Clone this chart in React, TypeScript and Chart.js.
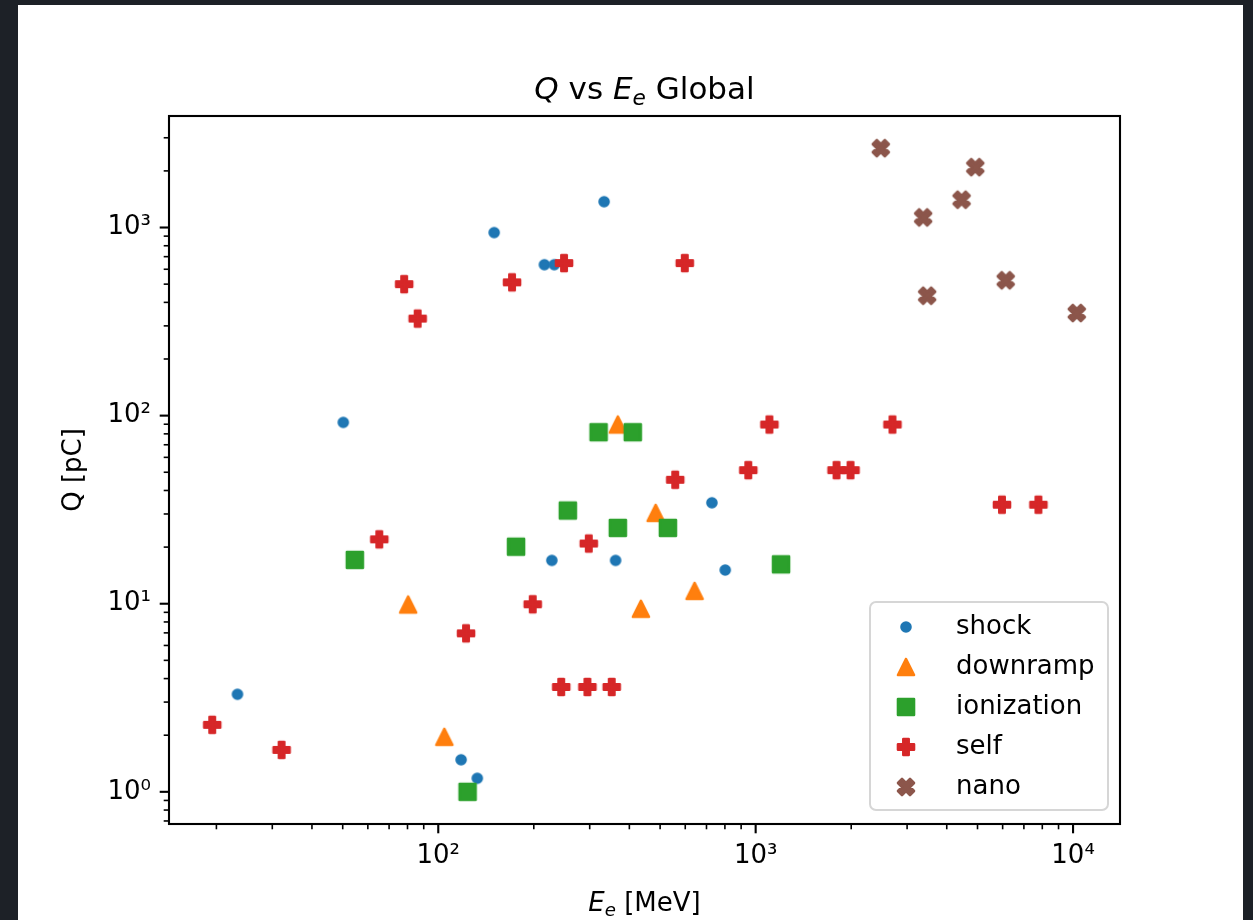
import React, { useEffect, useRef } from 'react';
import { Chart, registerables } from 'chart.js';

Chart.register(...registerables);

// ---------------- data ----------------
const shockE = [23.3, 50.2, 118, 132.7, 150, 216, 232, 333, 228, 362, 728, 802];
const shockQ = [3.3, 92, 1.48, 1.18, 940, 634, 634, 1371, 17.0, 17.0, 34.4, 15.1];

const downrampE = [80.4, 104.5, 368, 484, 642, 435];
const downrampQ = [9.9, 1.96, 89.7, 30.4, 11.7, 9.4];

const ionizationE = [54.6, 123.7, 175.8, 256, 320, 410, 368, 529, 1202];
const ionizationQ = [17.1, 1.0, 20.1, 31.3, 81.6, 81.6, 25.3, 25.3, 16.2];

const selfE = [19.4, 32.1, 65.2, 78.1, 86.1, 122.3, 198.4, 170.8, 249, 598, 298, 558, 948, 1105, 244, 295, 352, 1798, 1990, 2698, 5970, 7778];
const selfQ = [2.27, 1.67, 22.0, 500, 328, 6.96, 9.93, 511, 647, 647, 20.9, 45.6, 51.3, 89.7, 3.61, 3.61, 3.61, 51.3, 51.3, 89.7, 33.6, 33.6];

const nanoE = [2479, 3371, 3470, 4454, 4920, 6134, 10273];
const nanoQ = [2641, 1132, 434, 1405, 2094, 524, 351];

const seriesNames = ['shock', 'downramp', 'ionization', 'self', 'nano'];
const seriesColors = ['#1f77b4', '#ff7f0e', '#2ca02c', '#d62728', '#8c564b'];
const seriesMarkers = ['point', 'triangle', 'square', 'plus', 'x'];

const xAxisMin = 14.18;
const xAxisMax = 14057;
const yAxisMin = 0.6745;
const yAxisMax = 3916;

const titleParts = [
  { t: 'Q', italic: true },
  { t: ' vs ' },
  { t: 'E', italic: true },
  { t: 'e', italic: true, sub: true },
  { t: ' Global' },
];
const xLabelParts = [
  { t: 'E', italic: true },
  { t: 'e', italic: true, sub: true },
  { t: ' [MeV]' },
];
const yLabelText = 'Q [pC]';

// ---------------------------------------------------------------------------
const FONT = "'DejaVu Sans', sans-serif";
const SUP: Record<string, string> = { '-': '⁻', '0': '⁰', '1': '¹', '2': '²', '3': '³', '4': '⁴', '5': '⁵', '6': '⁶', '7': '⁷', '8': '⁸', '9': '⁹' };

function powLabel(v: number): string {
  const l = Math.log10(v);
  const r = Math.round(l);
  if (Math.abs(l - r) > 1e-6) return '';
  return '10' + String(r).split('').map((c) => SUP[c]).join('');
}

function makeMarker(kind: string, color: string): HTMLCanvasElement {
  const c = document.createElement('canvas');
  const S = 26;
  c.width = S;
  c.height = S;
  const ctx = c.getContext('2d')!;
  ctx.translate(S / 2, S / 2);
  ctx.fillStyle = color;
  ctx.strokeStyle = color;
  ctx.lineWidth = 2.6;
  ctx.lineJoin = 'round';
  const m = 16;
  ctx.beginPath();
  const poly = (pts: number[][], k: number) => {
    pts.forEach(([x, y], i) => (i ? ctx.lineTo(x * k, y * k) : ctx.moveTo(x * k, y * k)));
    ctx.closePath();
  };
  if (kind === 'point') {
    ctx.arc(0, 0, 4.5, 0, Math.PI * 2);
  } else if (kind === 'triangle') {
    poly([[0, -1], [-1, 1], [1, 1]], m / 2);
  } else if (kind === 'square') {
    ctx.rect(-m / 2, -m / 2, m, m);
  } else if (kind === 'plus') {
    poly([[-1, -3], [1, -3], [1, -1], [3, -1], [3, 1], [1, 1], [1, 3], [-1, 3], [-1, 1], [-3, 1], [-3, -1], [-1, -1]], m / 6);
  } else {
    poly([[-1, -2], [0, -1], [1, -2], [2, -1], [1, 0], [2, 1], [1, 2], [0, 1], [-1, 2], [-2, 1], [-1, 0], [-2, -1]], m / 4);
  }
  ctx.fill();
  ctx.stroke();
  return c;
}

function fontFor(p: any, size: number) {
  const s = p.sub ? size * 0.7 : size;
  return `${p.italic ? 'italic ' : ''}${s}px ${FONT}`;
}

function drawRich(ctx: CanvasRenderingContext2D, parts: any[], size: number, cx: number, baseline: number) {
  let total = 0;
  const ws = parts.map((p) => {
    ctx.font = fontFor(p, size);
    const w = ctx.measureText(p.t).width;
    total += w;
    return w;
  });
  let x = cx - total / 2;
  ctx.textAlign = 'left';
  ctx.textBaseline = 'alphabetic';
  parts.forEach((p, i) => {
    ctx.font = fontFor(p, size);
    ctx.fillText(p.t, x, baseline + (p.sub ? size * 0.18 : 0));
    x += ws[i];
  });
}

function logTicks(min: number, max: number) {
  const major: number[] = [];
  const minor: number[] = [];
  for (let e = Math.floor(Math.log10(min)); e <= Math.ceil(Math.log10(max)); e++) {
    for (let k = 1; k < 10; k++) {
      const v = k * Math.pow(10, e);
      if (v < min || v > max) continue;
      (k === 1 ? major : minor).push(v);
    }
  }
  return { major, minor };
}

export default function App() {
  const ref = useRef<HTMLCanvasElement>(null);

  useEffect(() => {
    const markers = seriesMarkers.map((k, i) => makeMarker(k, seriesColors[i]));
    const xs = [shockE, downrampE, ionizationE, selfE, nanoE];
    const ys = [shockQ, downrampQ, ionizationQ, selfQ, nanoQ];

    const datasets = seriesNames.map((name, i) => ({
      label: name,
      data: xs[i].map((x, j) => ({ x, y: ys[i][j] })),
      pointStyle: markers[i] as any,
      pointRadius: 6,
      backgroundColor: seriesColors[i],
      borderColor: seriesColors[i],
      order: seriesNames.length - i,
    }));

    const figurePlugin = {
      id: 'figure',
      beforeDraw(chart: any) {
        const ctx = chart.ctx as CanvasRenderingContext2D;
        ctx.save();
        ctx.fillStyle = '#ffffff';
        ctx.fillRect(18, 5, 1225, 915);
        ctx.restore();
      },
      afterDraw(chart: any) {
        const ctx = chart.ctx as CanvasRenderingContext2D;
        const a = chart.chartArea;
        const sx = chart.scales.x;
        const sy = chart.scales.y;
        ctx.save();
        ctx.strokeStyle = '#000';
        // ticks
        const xt = logTicks(xAxisMin, xAxisMax);
        const yt = logTicks(yAxisMin, yAxisMax);
        const tick = (vals: number[], len: number, lw: number, horiz: boolean) => {
          ctx.lineWidth = lw;
          vals.forEach((v) => {
            ctx.beginPath();
            if (horiz) {
              const p = sx.getPixelForValue(v);
              ctx.moveTo(p, a.bottom);
              ctx.lineTo(p, a.bottom + len);
            } else {
              const p = sy.getPixelForValue(v);
              ctx.moveTo(a.left, p);
              ctx.lineTo(a.left - len, p);
            }
            ctx.stroke();
          });
        };
        tick(xt.major, 9.3, 2.1, true);
        tick(xt.minor, 5.3, 1.6, true);
        tick(yt.major, 9.3, 2.1, false);
        tick(yt.minor, 5.3, 1.6, false);
        // spines
        ctx.lineWidth = 2.1;
        ctx.strokeRect(a.left, a.top, a.right - a.left, a.bottom - a.top);

        // title and axis labels
        ctx.fillStyle = '#000';
        drawRich(ctx, titleParts, 31, (a.left + a.right) / 2, 99);
        drawRich(ctx, xLabelParts, 26, (a.left + a.right) / 2, 911);
        ctx.save();
        ctx.translate(81, (a.top + a.bottom) / 2);
        ctx.rotate(-Math.PI / 2);
        ctx.font = `26px ${FONT}`;
        ctx.textAlign = 'center';
        ctx.textBaseline = 'alphabetic';
        ctx.fillText(yLabelText, 0, 0);
        ctx.restore();

        // legend
        const lx = 870, ly = 602, lw = 238, lh = 208, r = 6;
        ctx.beginPath();
        ctx.moveTo(lx + r, ly);
        ctx.arcTo(lx + lw, ly, lx + lw, ly + lh, r);
        ctx.arcTo(lx + lw, ly + lh, lx, ly + lh, r);
        ctx.arcTo(lx, ly + lh, lx, ly, r);
        ctx.arcTo(lx, ly, lx + lw, ly, r);
        ctx.closePath();
        ctx.fillStyle = 'rgba(255,255,255,0.8)';
        ctx.fill();
        ctx.strokeStyle = '#d6d6d6';
        ctx.lineWidth = 2;
        ctx.stroke();
        ctx.font = `26px ${FONT}`;
        ctx.textAlign = 'left';
        ctx.textBaseline = 'alphabetic';
        ctx.fillStyle = '#000';
        seriesNames.forEach((name, i) => {
          const my = 627 + 40 * i;
          const mk = markers[i];
          ctx.drawImage(mk, 906 - mk.width / 2, my - mk.height / 2);
          ctx.fillText(name, 956, my + 7);
        });
        ctx.restore();
      },
    };

    const tickFont = { family: FONT, size: 26 };
    const chart = new Chart(ref.current!, {
      type: 'scatter',
      data: { datasets: datasets as any },
      options: {
        responsive: false,
        animation: false,
        events: [],
        layout: { padding: { left: 0, top: 116, right: 133, bottom: 0 } },
        plugins: {
          legend: { display: false },
          title: { display: false },
          tooltip: { enabled: false },
        },
        scales: {
          x: {
            type: 'logarithmic',
            min: xAxisMin,
            max: xAxisMax,
            grid: { display: false, drawTicks: false },
            border: { display: false },
            ticks: {
              autoSkip: false,
              maxRotation: 0,
              minRotation: 0,
              padding: 17,
              color: '#000',
              font: tickFont,
              callback: (v: any) => powLabel(Number(v)),
            },
            afterFit: (s: any) => {
              s.height = 96;
            },
          },
          y: {
            type: 'logarithmic',
            min: yAxisMin,
            max: yAxisMax,
            grid: { display: false, drawTicks: false },
            border: { display: false },
            ticks: {
              autoSkip: false,
              padding: 18,
              color: '#000',
              font: tickFont,
              callback: (v: any) => powLabel(Number(v)),
            },
            afterFit: (s: any) => {
              s.width = 169;
            },
          },
        },
      } as any,
      plugins: [figurePlugin],
    });
    return () => chart.destroy();
  }, []);

  return (
    <div
      style={{
        position: 'fixed',
        left: 0,
        top: 0,
        width: 1253,
        height: 920,
        background: '#1d2127',
        overflow: 'hidden',
      }}
    >
      <canvas ref={ref} width={1253} height={920} style={{ display: 'block', width: 1253, height: 920 }} />
    </div>
  );
}
